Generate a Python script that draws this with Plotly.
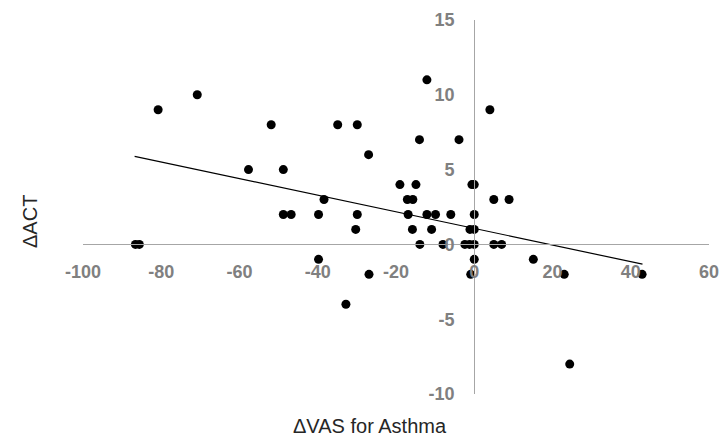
import plotly.graph_objects as go

vas = [-86.6, -85.6, -80.8, -70.8, -57.7, -51.9, -48.8, -48.8, -46.8, -39.8,
       -38.4, -39.8, -34.9, -32.8, -30.3, -29.9, -29.9, -27.0, -26.9, -19.0,
       -17.1, -15.7, -16.9, -15.8, -14.9, -14.0, -13.9, -12.1, -12.1, -10.9,
       -9.9, -8.0, -6.0, -3.9, -2.4, -1.2, -1.1, -0.9, -0.6, 0.0,
       0.0, 0.0, 0.0, 0.0, 4.0, 5.0, 8.9, 5.0, 7.0, 15.1,
       23.0, 24.4, 42.9]
act = [0, 0, 9, 10, 5, 8, 5, 2, 2, 2,
       3, -1, 8, -4, 1, 8, 2, 6, -2, 4,
       3, 3, 2, 1, 4, 7, 0, 11, 2, 1,
       2, 0, 2, 7, 0, 0, 1, -2, 4, 4,
       2, 1, 0, -1, 9, 3, 3, 0, 0, -1,
       -2, -8, -2]

# linear trendline as drawn in the reference
trend_x = [-86.8, 43.0]
trend_y = [5.89, -1.32]

x_ticks = [-100, -80, -60, -40, -20, 0, 20, 40, 60]
y_ticks = [-10, -5, 0, 5, 10, 15]
x_range = [-100, 60]
y_range = [-10, 15]

fig = go.Figure()
fig.add_trace(go.Scatter(x=trend_x, y=trend_y, mode="lines",
                         line=dict(color="black", width=1.2), showlegend=False,
                         hoverinfo="skip"))
fig.add_trace(go.Scatter(x=vas, y=act, mode="markers",
                         marker=dict(color="black", size=9), showlegend=False))

tick_font = dict(family="Liberation Sans, Arial", size=18, color="#808080",
                 weight="bold")
x_pos = (0 - y_range[0]) / (y_range[1] - y_range[0])
y_pos = (0 - x_range[0]) / (x_range[1] - x_range[0])

W, H = 720, 436
L, T = 83, 20
PW, PH = 626, 374
R, B = W - L - PW, H - T - PH

fig.update_layout(
    width=W, height=H,
    margin=dict(l=L, r=R, t=T, b=B, autoexpand=False),
    paper_bgcolor="white", plot_bgcolor="white",
    xaxis=dict(range=x_range, tickvals=x_ticks, ticktext=[str(v) for v in x_ticks],
               showgrid=False, zeroline=False, showline=True, linecolor="#a6a6a6",
               linewidth=1.3, anchor="free", position=x_pos, ticks="",
               tickfont=tick_font, ticklabelstandoff=11, automargin=False,
               ticklabeloverflow="allow"),
    yaxis=dict(range=y_range, tickvals=y_ticks, ticktext=[str(v) for v in y_ticks],
               showgrid=False, zeroline=False, showline=True, linecolor="#a6a6a6",
               linewidth=1.3, anchor="free", position=y_pos, ticks="",
               tickfont=tick_font, ticklabelstandoff=16, automargin=False,
               ticklabeloverflow="allow"),
    font=dict(family="Liberation Sans, Arial"),
    annotations=[
        dict(text="ΔVAS for Asthma", x=(370 - L) / PW, y=1 - (426 - T) / PH,
             xref="paper", yref="paper", xanchor="center", yanchor="middle",
             showarrow=False, font=dict(size=20, color="#262626")),
        dict(text="ΔACT", x=(30 - L) / PW, y=1 - (222 - T) / PH, textangle=-90,
             xref="paper", yref="paper", xanchor="center", yanchor="middle",
             showarrow=False, font=dict(size=20, color="#262626")),
    ],
)
fig.write_html("out.html", config={"displayModeBar": False},
               post_script="document.body.style.margin='0';"
                           "document.body.style.overflow='hidden';")
